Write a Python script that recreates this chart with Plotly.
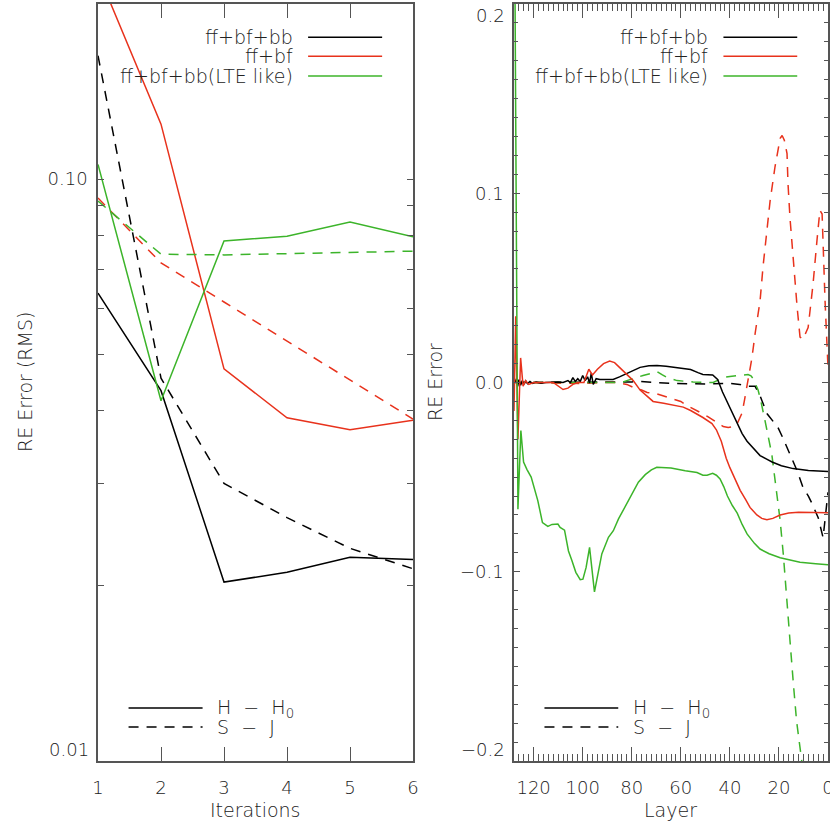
import plotly.graph_objects as go

# ---------------- data: left panel (RMS error vs iteration) ----------------
iterations = [1, 2, 3, 4, 5, 6]
rms_ffbfbb_H = [0.0637, 0.0433, 0.0203, 0.0211, 0.0224, 0.0222]
rms_ffbfbb_S = [0.163, 0.0455, 0.0300, 0.0262, 0.0232, 0.0214]
rms_ffbf_H = [0.226, 0.1243, 0.0472, 0.0389, 0.0371, 0.0385]
rms_ffbf_S = [0.0928, 0.0718, 0.0615, 0.0527, 0.0452, 0.0387]
rms_lte_H = [0.106, 0.0416, 0.0783, 0.0798, 0.0844, 0.0796]
rms_lte_S = [0.0917, 0.0743, 0.0741, 0.0745, 0.0749, 0.0752]

# ---------------- data: right panel (RE error vs layer) ----------------
layer_ffbfbb_H = [127.5, 127, 126.5, 126, 125.3, 124.6, 124, 123.2, 122.5, 121.5, 120.5, 119, 117, 115,
                  110, 108, 106, 105, 104, 103, 102, 101, 100, 99, 98, 97.2, 96.5, 95.7, 94.5, 93, 90,
                  87.6, 85, 82, 79, 76.6, 73, 69.7, 66, 63, 59, 56, 53, 51, 47, 45, 43, 40, 37, 35, 33,
                  30, 27.7, 25, 22.8, 19, 14.2, 8, 0]
re_ffbfbb_H = [0.0, 0.002, -0.002, 0.0015, -0.0015, 0.001, -0.001, 0.0008, -0.0006, 0.0005, -0.0005,
               0.0003, -0.0004, 0.0, 0.0002, 0.0, 0.001, 0.0, 0.0026, 0.0005, 0.002, 0.0005, 0.0037,
               0.001, 0.003, -0.0003, 0.005, -0.001, 0.002, 0.0016, 0.0016, 0.0016, 0.003, 0.0048,
               0.0068, 0.008, 0.0088, 0.009, 0.0086, 0.008, 0.0075, 0.0069, 0.0052, 0.0042, 0.0040,
               0.0016, -0.005, -0.013, -0.021, -0.027, -0.031, -0.0355, -0.0386, -0.0405, -0.042,
               -0.044, -0.0455, -0.0465, -0.047]

layer_ffbfbb_S = [127.5, 100, 80, 76.6, 70, 63, 50, 45, 40, 36, 33, 29.7, 27.7, 24.9, 22.5, 20.4,
                  18.5, 16.7, 14.5, 12.6, 10.2, 8, 6.5, 4, 2, 0]
re_ffbfbb_S = [0.0, 0.0, 0.0003, 0.0005, 0.0, -0.0005, -0.0008, -0.0008, -0.0005, -0.001, -0.002,
               -0.002, -0.007, -0.0164, -0.0205, -0.0238, -0.029, -0.0344, -0.041, -0.0466, -0.0554,
               -0.060, -0.064, -0.0714, -0.082, -0.058]

layer_ffbf_H = [128, 127.3, 126.4, 125.3, 124.3, 123.3, 122, 120, 112, 110, 108, 106, 104, 102, 99.5,
                97.5, 96, 94, 91.5, 89, 87, 85, 82, 79.4, 76.6, 74, 71.3, 67, 63, 59, 56, 51, 47.3,
                45.5, 43.5, 41.5, 40, 38, 35.8, 33.5, 31.8, 29, 27, 24.9, 22.5, 19.5, 16, 12, 0]
re_ffbf_H = [-0.015, 0.035, -0.030, 0.013, -0.002, 0.001, -0.001, 0.0, 0.0, -0.002, -0.0037, -0.003,
             -0.001, 0.0, 0.0, 0.007, 0.004, 0.007, 0.010, 0.0113, 0.0105, 0.008, 0.0045, 0.001,
             -0.004, -0.007, -0.010, -0.011, -0.012, -0.013, -0.0148, -0.0185, -0.0217, -0.025,
             -0.031, -0.040, -0.045, -0.051, -0.057, -0.062, -0.066, -0.070, -0.0718, -0.0725,
             -0.0718, -0.0700, -0.0690, -0.0686, -0.0688]

layer_ffbf_S = [127.5, 100, 91, 86, 82, 79.4, 76, 73.7, 69.7, 66, 63, 60, 57.4, 55, 52, 49, 46.8, 44.5,
                42.7, 40.7, 38.5, 37, 35, 34, 33, 32, 31, 29.7, 27.7, 26.5, 24.9, 23.6, 21.6, 19.5,
                18.7, 17.8, 16.7, 16.3, 15.5, 14.2, 12.6, 11.4, 10.2, 8.1, 6.1, 4.5, 3.3, 2.4, 2.0,
                1.2, 0]
re_ffbf_S = [0.0, -0.0005, 0.0, 0.0, -0.001, -0.0026, -0.004, -0.0053, -0.0060, -0.0075, -0.0085,
             -0.010, -0.0122, -0.014, -0.0159, -0.018, -0.020, -0.022, -0.0233, -0.0238, -0.0232,
             -0.0217, -0.016, -0.009, -0.002, 0.005, 0.013, 0.026, 0.043, 0.061, 0.079, 0.096, 0.114,
             0.129, 0.1305, 0.128, 0.121, 0.105, 0.087, 0.0645, 0.040, 0.024, 0.0228, 0.029, 0.052,
             0.075, 0.091, 0.089, 0.070, 0.043, 0.008]

layer_lte_H = [128, 126.4, 125.2, 124.1, 122.7, 121, 118.3, 116.4, 114.2, 112.5, 110.1, 109.2, 107.4,
               105.8, 104.4, 102.8, 101, 99.9, 98.6, 97.2, 95.2, 93.8, 92.2, 89.5, 87.5, 85.4, 82.7,
               80, 77.3, 74.5, 72, 69.8, 64, 58.2, 53.4, 51, 49.3, 47, 45.5, 44, 42.5, 41, 39, 37,
               35, 33, 30, 27.7, 24, 19.5, 15, 11.4, 5, 0]
re_lte_H = [0.30, -0.067, -0.0254, -0.042, -0.046, -0.050, -0.0624, -0.074, -0.076, -0.075, -0.0748,
            -0.0766, -0.078, -0.089, -0.094, -0.1003, -0.1042, -0.1039, -0.0977, -0.0871, -0.1106,
            -0.1012, -0.0906, -0.0818, -0.0783, -0.0721, -0.0656, -0.0589, -0.0527, -0.0487, -0.0462,
            -0.0448, -0.0452, -0.0466, -0.0476, -0.049, -0.049, -0.048, -0.049, -0.051, -0.055,
            -0.060, -0.065, -0.069, -0.075, -0.080, -0.085, -0.088, -0.0905, -0.0926, -0.094,
            -0.095, -0.0958, -0.0963]

layer_lte_S = [127.5, 84, 82, 78, 75.4, 72, 69.7, 67.5, 65.6, 61.5, 55, 46.8, 44.5, 42.7, 40, 37, 34.5,
               32.6, 31.4, 30.5, 29.5, 28.5, 27.5, 26.5, 25.7, 22.9, 21.2, 19.5, 18.2, 17.1, 16.2,
               15.1, 14, 12.8, 10.7, 8, 0]
re_lte_S = [0.0, 0.0, 0.001, 0.0028, 0.0037, 0.0048, 0.0058, 0.004, 0.0026, 0.001, 0.0003, 0.0, 0.0013,
            0.0026, 0.0032, 0.0037, 0.004, 0.0042, 0.0035, 0.002, -0.001, -0.004, -0.009, -0.0148,
            -0.020, -0.038, -0.055, -0.073, -0.091, -0.108, -0.126, -0.143, -0.161, -0.179, -0.200,
            -0.23, -0.32]

series_names = ["ff+bf+bb", "ff+bf", "ff+bf+bb(LTE like)"]
style_names = ["H  \u2212  H<sub>0</sub>", "S  \u2212  J"]
left_ticks = [1, 2, 3, 4, 5, 6]
left_ylog_ticks = [0.01, 0.1]
left_ylog_text = ["", "0.10"]          # the 0.01 end label is placed as an annotation
left_ylog_minor = [0.02, 0.03, 0.04, 0.05, 0.06, 0.07, 0.08, 0.09, 0.2]
right_xticks = [0, 20, 40, 60, 80, 100, 120]
right_yticks = [-0.2, -0.1, 0.0, 0.1, 0.2]
right_ytext = ["", "\u22120.1", "0.0", "0.1", ""]   # end labels placed as annotations
end_labels = [("0.01", "x domain", "y domain", 0.0), ("\u22120.2", "x2 domain", "y2 domain", 0.0),
              ("0.2", "x2 domain", "y2 domain", 1.0)]

BLACK = "#000000"
RED = "#e8321c"
GREEN = "#3cb42a"
FONT = "DejaVu Sans"
FW = 200
AX = "#555555"
TXT = "#222222"
DASH = "10px,8px"
LW = 1.5

fig = go.Figure()

left = [
    (rms_ffbfbb_H, BLACK, "solid"), (rms_ffbfbb_S, BLACK, DASH),
    (rms_ffbf_H, RED, "solid"), (rms_ffbf_S, RED, DASH),
    (rms_lte_H, GREEN, "solid"), (rms_lte_S, GREEN, DASH),
]
for vals, col, dash in left:
    fig.add_trace(go.Scatter(x=iterations, y=vals, mode="lines",
                             line=dict(color=col, width=LW, dash=dash),
                             xaxis="x", yaxis="y", showlegend=False, hoverinfo="skip"))

right = [
    (layer_ffbfbb_S, re_ffbfbb_S, BLACK, DASH), (layer_ffbf_S, re_ffbf_S, RED, DASH),
    (layer_lte_S, re_lte_S, GREEN, DASH),
    (layer_ffbfbb_H, re_ffbfbb_H, BLACK, "solid"), (layer_ffbf_H, re_ffbf_H, RED, "solid"),
    (layer_lte_H, re_lte_H, GREEN, "solid"),
]
for xs, ys, col, dash in right:
    fig.add_trace(go.Scatter(x=xs, y=ys, mode="lines",
                             line=dict(color=col, width=LW, dash=dash),
                             xaxis="x2", yaxis="y2", showlegend=False, hoverinfo="skip"))

W = H = 830
def fx(px):
    return px / W
def fy(py):
    return 1 - py / H

tick_font = dict(family=FONT, size=18, color=TXT, weight=FW)
tf = dict(family=FONT, size=19, color=TXT, weight=FW)
common = dict(showline=True, linecolor=AX, linewidth=1.5, mirror="ticks", ticks="inside",
              tickcolor=AX, tickwidth=1, showgrid=False, zeroline=False, automargin=False,
              tickfont=tick_font, ticklabeloverflow="allow")

fig.update_layout(
    width=W, height=H, margin=dict(l=0, r=0, t=0, b=0, pad=0, autoexpand=False),
    paper_bgcolor="white", plot_bgcolor="white", showlegend=False,
    xaxis=dict(domain=[fx(98), fx(413)], range=[1, 6], tickvals=left_ticks, ticklen=14,
               anchor="y", ticklabelstandoff=10, **common),
    yaxis=dict(domain=[fy(761), fy(4)], type="log", range=[-2, -0.699], tickvals=left_ylog_ticks,
               ticktext=left_ylog_text, ticklen=6, anchor="x", ticklabelstandoff=5,
               minor=dict(tickvals=left_ylog_minor, ticklen=6, ticks="inside", tickcolor=AX),
               **common),
    xaxis2=dict(domain=[fx(514), fx(828)], range=[128, 0], tickvals=right_xticks, ticklen=14,
                anchor="y2", ticklabelstandoff=10,
                minor=dict(dtick=2, ticklen=7, ticks="inside", tickcolor=AX), **common),
    yaxis2=dict(domain=[fy(761), fy(4)], range=[-0.2, 0.2], tickvals=right_yticks,
                ticktext=right_ytext, ticklen=6, anchor="x2", ticklabelstandoff=5,
                minor=dict(dtick=0.01, ticklen=4, ticks="inside", tickcolor=AX), **common),
)

ann = []
shapes = []
colors = [BLACK, RED, GREEN]
for xr, yr in [("x domain", "y domain"), ("x2 domain", "y2 domain")]:
    for i, (nm, col) in enumerate(zip(series_names, colors)):
        yy = [0.956, 0.931, 0.905][i]
        ann.append(dict(text=nm, xref=xr, yref=yr, x=0.625, y=yy, xanchor="right", yanchor="middle",
                        showarrow=False, font=tf))
        shapes.append(dict(type="line", xref=xr, yref=yr, x0=0.667, x1=0.902, y0=yy, y1=yy,
                           line=dict(color=col, width=LW)))
    for i, (nm, dash) in enumerate(zip(style_names, ["solid", DASH])):
        yy = [0.070, 0.045][i]
        ann.append(dict(text=nm, xref=xr, yref=yr, x=0.372, y=yy, xanchor="left", yanchor="middle",
                        showarrow=False, font=tf))
        shapes.append(dict(type="line", xref=xr, yref=yr, x0=0.097, x1=0.332, y0=yy, y1=yy,
                           line=dict(color=BLACK, width=LW, dash=dash)))

# end-of-axis tick labels, nudged inside the axis span as in the original
for txt, xr, yr, yv in end_labels:
    ann.append(dict(text=txt, xref=xr, yref=yr, x=0, y=yv, xanchor="right",
                    yanchor="bottom" if yv == 0.0 else "top", xshift=-7,
                    yshift=-1 if yv == 0.0 else 1, showarrow=False, font=tick_font))

# axis titles
ann.append(dict(text="Iterations", xref="paper", yref="paper", x=fx(255), y=fy(810),
                showarrow=False, font=tf, xanchor="center", yanchor="middle"))
ann.append(dict(text="Layer", xref="paper", yref="paper", x=fx(670), y=fy(810),
                showarrow=False, font=tf, xanchor="center", yanchor="middle"))
ann.append(dict(text="RE Error (RMS)", xref="paper", yref="paper", x=fx(25), y=fy(382),
                showarrow=False, font=tf, textangle=-90, xanchor="center", yanchor="middle"))
ann.append(dict(text="RE Error", xref="paper", yref="paper", x=fx(435), y=fy(382),
                showarrow=False, font=tf, textangle=-90, xanchor="center", yanchor="middle"))

fig.update_layout(annotations=ann, shapes=shapes)
fig.write_html("out.html", config={"displayModeBar": False},
               post_script="document.body.style.margin='0px';")
